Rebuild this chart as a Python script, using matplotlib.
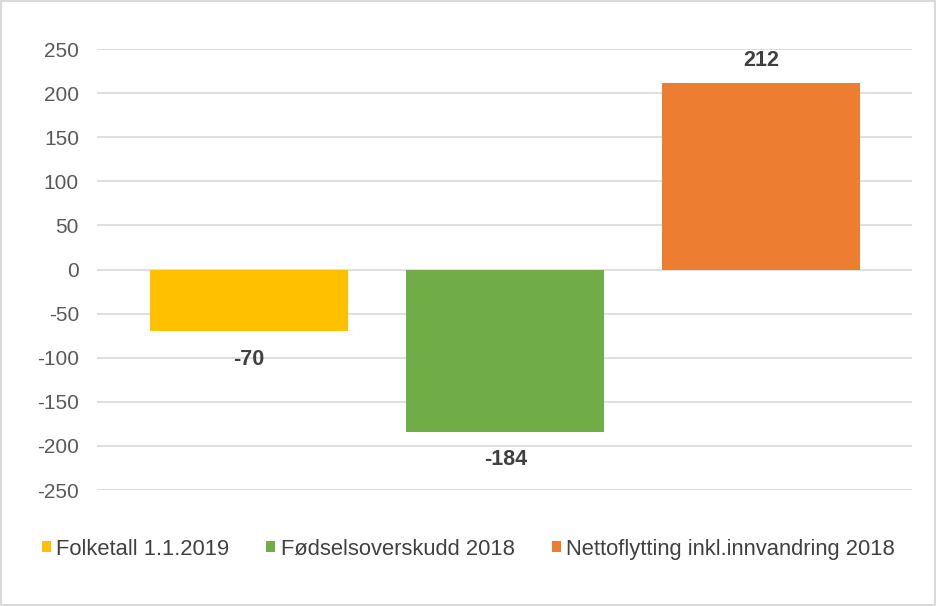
import matplotlib.pyplot as plt
from matplotlib.patches import Rectangle

plt.rcParams['font.family'] = ['Liberation Sans', 'DejaVu Sans']

series = ['Folketall 1.1.2019', 'Fødselsoverskudd 2018', 'Nettoflytting inkl.innvandring 2018']
values = [-70, -184, 212]
colors = ['#FFC000', '#70AD47', '#ED7D31']
yticks = [250, 200, 150, 100, 50, 0, -50, -100, -150, -200, -250]

fig = plt.figure(figsize=(9.37, 6.06), dpi=100)
ax = fig.add_axes([0.1035, 0.1914, 0.8698, 0.7277])

handles = []
for i, (name, v, c) in enumerate(zip(series, values, colors)):
    b = ax.bar(i, v, width=0.773, color=c, label=name, zorder=3)
    handles.append(b)
    off = 16 if v > 0 else -20
    ax.annotate(str(v), (i, v), xytext=(0, off), textcoords='offset points',
                ha='center', va='center', fontsize=15.5, fontweight='bold',
                color='#404040')

ax.set_xlim(-0.594, 2.588)
ax.set_ylim(-250, 250)
ax.set_yticks(yticks)
ax.set_yticklabels([str(t) for t in yticks])
ax.set_xticks([])
ax.tick_params(axis='y', length=0, labelsize=15, labelcolor='#595959', pad=13)
ax.yaxis.grid(True, color='#d9d9d9', linewidth=1.2, zorder=0)
for s in ax.spines.values():
    s.set_visible(False)

fig.legend(handles, series, loc='center', bbox_to_anchor=(0.5, 0.094), ncol=3,
           frameon=False, fontsize=15.8, handlelength=0.4, handleheight=0.4,
           handletextpad=0.25, columnspacing=1.7, labelcolor='#404040')

fig.patches.append(Rectangle((0.001, 0.002), 0.997, 0.996, transform=fig.transFigure,
                             fill=False, edgecolor='#d9d9d9', linewidth=1.5))

fig.savefig('out.png', dpi=100)
